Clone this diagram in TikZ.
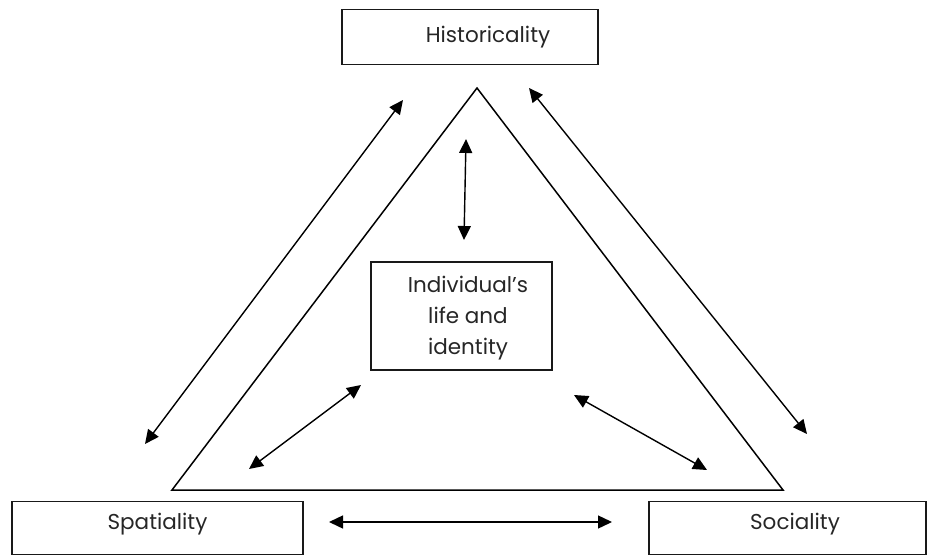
\documentclass[tikz,border=0pt]{standalone}
\usepackage{fontspec}
\setmainfont{Poppins}
\usetikzlibrary{arrows.meta}
\begin{document}
\begin{tikzpicture}[x=1pt,y=-1pt,
  box/.style={draw=black!90, line width=1.5pt, rectangle, inner sep=0pt},
  lbl/.style={font=\fontsize{21.5}{31}\selectfont, text=black!85, align=center, inner sep=0pt},
  edge/.style={draw=black, line width=1.5pt, line join=miter},
  biarrow/.style={line width=1.4pt, {Triangle[length=14pt,width=13pt]}-{Triangle[length=14pt,width=13pt]}}]
\useasboundingbox (0,0) rectangle (930,557);

% concept boxes
\node[box, minimum width=256pt, minimum height=55pt] (hist) at (470,37) {};
\node[lbl] (histtext) at (488,37) {Historicality};
\node[box, minimum width=291pt, minimum height=53pt] (spat) at (157.5,528) {};
\node[lbl] (spattext) at (157.5,524) {Spatiality};
\node[box, minimum width=277pt, minimum height=53pt] (soc) at (787.5,528) {};
\node[lbl] (soctext) at (795,524) {Sociality};
\node[box, minimum width=181pt, minimum height=108pt] (indiv) at (461.5,316) {};
\node[lbl] (indivtext) at (468,318) {Individual's\\life and\\identity};

% triangle
\coordinate (apex) at (477,88);
\coordinate (bl) at (172,490);
\coordinate (br) at (783,490);
\draw[edge] (apex) -- (bl) -- (br) -- cycle;

% arrow end points
\coordinate (ltop) at (403,100);
\coordinate (lbot) at (145,444);
\coordinate (rtop) at (529,88);
\coordinate (rbot) at (807,434);
\coordinate (vtop) at (466,139);
\coordinate (vbot) at (464,240);
\coordinate (iltop) at (361,385);
\coordinate (ilbot) at (249,469);
\coordinate (irtop) at (574,395);
\coordinate (irbot) at (707,470);
\coordinate (bleft) at (329,522);
\coordinate (bright) at (612,522);

% relations
\draw[biarrow] (ltop) -- (lbot);
\draw[biarrow] (rtop) -- (rbot);
\draw[biarrow] (vtop) -- (vbot);
\draw[biarrow] (iltop) -- (ilbot);
\draw[biarrow] (irtop) -- (irbot);
\draw[biarrow] (bleft) -- (bright);
\end{tikzpicture}
\end{document}
